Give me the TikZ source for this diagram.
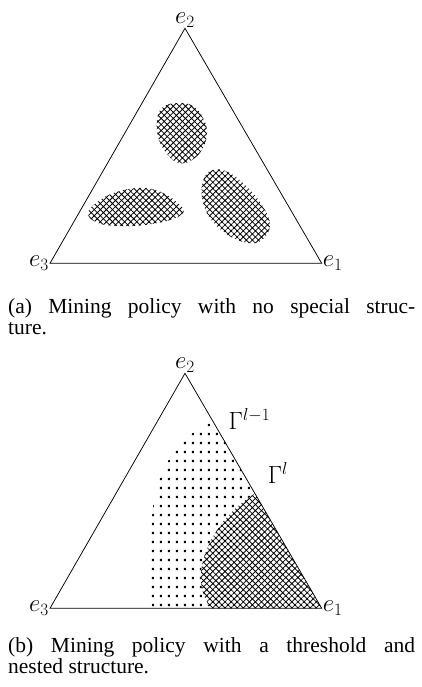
\documentclass[tikz,border=0pt]{standalone}
\usepackage[no-math]{fontspec}
\setmainfont{Liberation Serif}
\usetikzlibrary{patterns.meta}
\pgfdeclarepattern{
  name=sqdots,
  type=uncolored,
  bottom left={\pgfpoint{0pt}{0pt}},
  top right={\pgfpoint{8.3pt}{8.7pt}},
  tile size={\pgfpoint{8.3pt}{8.7pt}},
  code={\pgfpathrectangle{\pgfpoint{3pt}{3pt}}{\pgfpoint{2.2pt}{2.2pt}}\pgfusepath{fill}}
}
\tikzset{
  tri/.style={draw, line width=0.75pt, line join=miter},
  hatch/.style={pattern={Hatch[angle=45,distance=4.3pt,line width=0.8pt]}},
  dotfill/.style={pattern=sqdots},
  lab/.style={font=\fontsize{23}{26}\selectfont, inner sep=1pt},
  glab/.style={font=\fontsize{26}{30}\selectfont, inner sep=0pt},
  captext/.style={font=\fontsize{21.5}{24}\selectfont, inner sep=0pt, anchor=base west},
}
\begin{document}
\begin{tikzpicture}[x=1pt,y=-1pt]
\useasboundingbox (0,0) rectangle (422,687);
% ---------- (a) ----------
\coordinate (a2) at (185,28.3);
\coordinate (a3) at (50,263.3);
\coordinate (a1) at (321.7,263.3);
\path[hatch] plot[smooth cycle, tension=0.7] coordinates
  {(157,120) (163,107) (178,103) (193,106) (203,118) (207,132) (203,148) (192,160) (179,163) (168,155) (159,140)};
\path[hatch] plot[smooth cycle, tension=0.7] coordinates
  {(88,213) (100,200) (120,191) (145,188) (165,194) (180,205) (183,213) (170,220) (145,225) (120,226) (98,223)};
\path[hatch] plot[smooth cycle, tension=0.7] coordinates
  {(213,170) (228,172) (245,185) (262,205) (270,225) (262,240) (248,243) (228,235) (210,218) (202,197) (204,178)};
\draw[tri] (a2) -- (a1) -- (a3) -- cycle;
\node[lab, above] (la2) at (a2) {$e_2$};
\node[lab, left] (la3) at (a3) {$e_3$};
\node[lab, right] (la1) at (a1) {$e_1$};
\node[captext] (capa1) at (8,313) {\makebox[407pt][s]{(a) Mining policy with no special struc-}};
\node[captext] (capa2) at (8,334) {ture.};
% ---------- (b) ----------
\coordinate (b2) at (185,373.3);
\coordinate (b3) at (50,608.3);
\coordinate (b1) at (321.7,608.3);
\begin{scope}
\clip (b2) -- (b1) -- (b3) -- cycle;
\path[dotfill] (218,420) .. controls (190,428) and (165,455) .. (156,490)
   .. controls (149,520) and (150,570) .. (152,610) -- (330,610) -- (330,400) -- cycle;
\fill[white] (256,493) .. controls (235,505) and (205,535) .. (201,572)
   .. controls (200,590) and (205,600) .. (212,610) -- (330,610) -- (330,480) -- cycle;
\path[hatch] (256,493) .. controls (235,505) and (205,535) .. (201,572)
   .. controls (200,590) and (205,600) .. (212,610) -- (330,610) -- (330,480) -- cycle;
\end{scope}
\draw[tri] (b2) -- (b1) -- (b3) -- cycle;
\node[lab, above] (lb2) at (b2) {$e_2$};
\node[lab, left] (lb3) at (b3) {$e_3$};
\node[lab, right] (lb1) at (b1) {$e_1$};
\node[glab] (g1) at (249.5,419) {$\Gamma^{l-1}$};
\node[glab] (g0) at (278,473) {$\Gamma^{l}$};
\node[captext] (capb1) at (8,652) {\makebox[407pt][s]{(b) Mining policy with a threshold and}};
\node[captext] (capb2) at (8,673) {nested structure.};
\end{tikzpicture}
\end{document}
